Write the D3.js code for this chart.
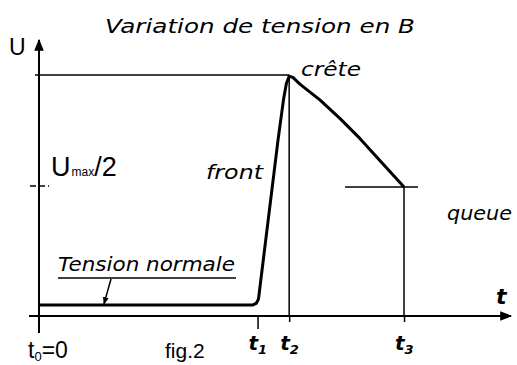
<!DOCTYPE html>
<html>
<head>
<meta charset="utf-8">
<script src="https://cdn.jsdelivr.net/npm/d3@7"></script>
<style>
  body { margin: 0; background: #fff; }
  text { fill: #000; }
</style>
</head>
<body>
<script>
// time marks (arbitrary units) and wave samples
var tNames = ['1', '2', '3'];
var tValues = [47, 53.8, 78.5];
var waveTime = [0, 46.0, 46.7, 47.2, 51.4, 52.6, 53.2, 53.8, 54.6, 56.1, 60.4, 64.7, 69.0, 73.3, 78.5];
var waveVolt = [0.046, 0.046, 0.052, 0.07, 0.730, 0.900, 0.965, 0.995, 0.99, 0.962, 0.897, 0.820, 0.737, 0.645, 0.535];
var uMax = 1.0;
var uHalf = 0.535;
var uNormal = 0.046;

var width = 517, height = 365;
var svg = d3.select('body').append('svg')
            .attr('width', width)
            .attr('height', height);

var x = d3.scaleLinear().domain([0, 100]).range([39, 504]);
var y = d3.scaleLinear().domain([0, 1]).range([316, 75]);

var italic = "'DejaVu Sans', sans-serif";
var plain = "'Liberation Sans', Arial, sans-serif";

var defs = svg.append('defs');
defs.append('marker')
    .attr('id', 'arr')
    .attr('viewBox', '0 0 10 10')
    .attr('refX', 9).attr('refY', 5)
    .attr('markerWidth', 6).attr('markerHeight', 6)
    .attr('orient', 'auto')
  .append('path')
    .attr('d', 'M0,1 L10,5 L0,9 Z')
    .attr('fill', '#000');
defs.append('marker')
    .attr('id', 'arrSmall')
    .attr('viewBox', '0 0 10 10')
    .attr('refX', 9).attr('refY', 5)
    .attr('markerWidth', 5).attr('markerHeight', 5)
    .attr('orient', 'auto')
  .append('path')
    .attr('d', 'M0,1 L10,5 L0,9 Z')
    .attr('fill', '#000');

// axes
svg.append('line')
   .attr('x1', x(0)).attr('y1', 333)
   .attr('x2', x(0)).attr('y2', 40)
   .attr('stroke', '#000').attr('stroke-width', 2)
   .attr('marker-end', 'url(#arr)');
svg.append('line')
   .attr('x1', 29).attr('y1', y(0))
   .attr('x2', 511).attr('y2', y(0))
   .attr('stroke', '#000').attr('stroke-width', 2)
   .attr('marker-end', 'url(#arr)');

var xAxis = d3.axisBottom(x)
              .tickValues(tValues)
              .tickSize(12)
              .tickSizeOuter(0)
              .tickFormat('');
var gx = svg.append('g')
            .attr('transform', 'translate(0,' + y(0) + ')')
            .call(xAxis);
gx.select('.domain').remove();
gx.selectAll('.tick line').attr('stroke-width', 1.5)
  .attr('y2', function(d, i){ return i == 0 ? 13 : 6; });

// reference lines
svg.append('line')
   .attr('x1', 35).attr('y1', y(uMax))
   .attr('x2', x(tValues[1])).attr('y2', y(uMax))
   .attr('stroke', '#000').attr('stroke-width', 1.5);
svg.append('line')
   .attr('x1', x(tValues[1])).attr('y1', y(uMax))
   .attr('x2', x(tValues[1])).attr('y2', y(0))
   .attr('stroke', '#000').attr('stroke-width', 1.5);
svg.append('line')
   .attr('x1', x(tValues[2])).attr('y1', y(uHalf))
   .attr('x2', x(tValues[2])).attr('y2', y(0))
   .attr('stroke', '#000').attr('stroke-width', 1.5);
svg.append('line')
   .attr('x1', 345).attr('y1', y(uHalf))
   .attr('x2', 418).attr('y2', y(uHalf))
   .attr('stroke', '#000').attr('stroke-width', 1.5);
// tick on the U axis at Umax/2
svg.append('line')
   .attr('x1', 30).attr('y1', y(uHalf) - 1)
   .attr('x2', 49).attr('y2', y(uHalf) - 1)
   .attr('stroke', '#000').attr('stroke-width', 1.5)
   .attr('stroke-dasharray', '6,3');

// the wave
var wave = waveTime.map(function(t, i){ return {t: t, v: waveVolt[i]}; });
var line = d3.line()
             .x(function(d){ return x(d.t); })
             .y(function(d){ return y(d.v); });
svg.append('path')
   .datum(wave)
   .attr('d', line)
   .attr('fill', 'none')
   .attr('stroke', '#000')
   .attr('stroke-width', 3)
   .attr('stroke-linejoin', 'round');

// texts
svg.append('text')
   .attr('x', 105).attr('y', 33)
   .attr('font-family', italic).attr('font-style', 'italic')
   .attr('font-size', 20)
   .attr('textLength', 310).attr('lengthAdjust', 'spacingAndGlyphs')
   .text('Variation de tension en B');

svg.append('text')
   .attr('x', 9).attr('y', 55)
   .attr('font-family', plain).attr('font-size', 23)
   .text('U');

svg.append('text')
   .attr('x', 301).attr('y', 76)
   .attr('font-family', italic).attr('font-style', 'italic')
   .attr('font-size', 20)
   .attr('textLength', 60).attr('lengthAdjust', 'spacingAndGlyphs')
   .text('crête');

svg.append('text')
   .attr('x', 206).attr('y', 179)
   .attr('font-family', italic).attr('font-style', 'italic')
   .attr('font-size', 20)
   .attr('textLength', 57).attr('lengthAdjust', 'spacingAndGlyphs')
   .text('front');

var uh = svg.append('text')
            .attr('x', 51).attr('y', 176)
            .attr('font-family', plain).attr('font-size', 27);
uh.append('tspan').text('U');
uh.append('tspan').attr('font-size', 12).attr('dx', 1).text('max');
uh.append('tspan').text('/2');

svg.append('text')
   .attr('x', 447).attr('y', 220)
   .attr('font-family', italic).attr('font-style', 'italic')
   .attr('font-size', 20)
   .attr('textLength', 65).attr('lengthAdjust', 'spacingAndGlyphs')
   .text('queue');

svg.append('text')
   .attr('x', 496).attr('y', 304)
   .attr('font-family', italic).attr('font-style', 'italic')
   .attr('font-weight', 'bold')
   .attr('font-size', 22)
   .text('t');

svg.append('text')
   .attr('x', 58).attr('y', 271)
   .attr('font-family', italic).attr('font-style', 'italic')
   .attr('font-size', 19)
   .attr('textLength', 177).attr('lengthAdjust', 'spacingAndGlyphs')
   .text('Tension normale');
svg.append('line')
   .attr('x1', 58).attr('y1', 278)
   .attr('x2', 236).attr('y2', 278)
   .attr('stroke', '#000').attr('stroke-width', 1.5);
svg.append('line')
   .attr('x1', 111).attr('y1', 279)
   .attr('x2', 104).attr('y2', y(uNormal) - 1)
   .attr('stroke', '#000').attr('stroke-width', 1.5)
   .attr('marker-end', 'url(#arrSmall)');

var t0 = svg.append('text')
            .attr('x', 28).attr('y', 358)
            .attr('font-family', plain).attr('font-size', 23);
t0.append('tspan').text('t');
t0.append('tspan').attr('font-size', 13).attr('dy', 3).text('0');
t0.append('tspan').attr('dy', -3).text('=0');

svg.append('text')
   .attr('x', 165).attr('y', 358)
   .attr('font-family', plain).attr('font-size', 21)
   .text('fig.2');

tValues.forEach(function(t, i){
  var lbl = svg.append('text')
               .attr('x', x(t) - 9).attr('y', 350)
               .attr('font-family', italic).attr('font-style', 'italic')
               .attr('font-weight', 'bold')
               .attr('font-size', 20);
  lbl.append('tspan').text('t');
  lbl.append('tspan').attr('font-size', 13).attr('dy', 4).text(tNames[i]);
});
</script>
</body>
</html>
